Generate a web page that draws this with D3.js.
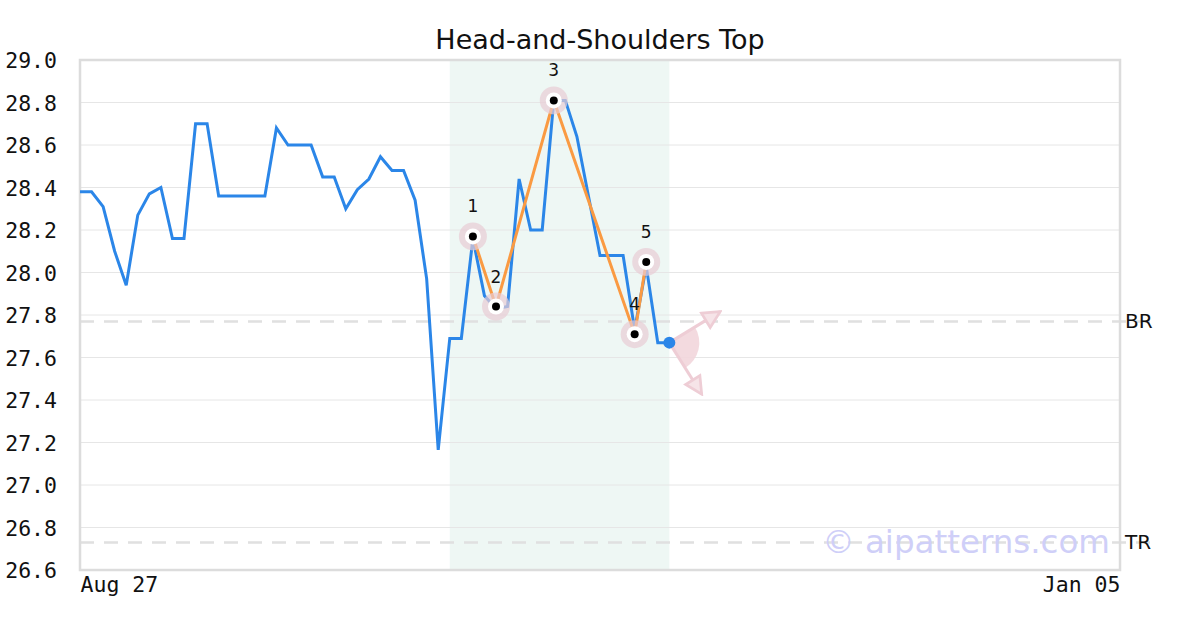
<!DOCTYPE html>
<html><head><meta charset="utf-8">
<script src="https://cdn.jsdelivr.net/npm/d3@7"></script>
<style>body{margin:0;background:#fff}svg{display:block}</style>
</head><body>
<svg id="c" width="1200" height="630"></svg>
<script>
const title = "Head-and-Shoulders Top";
const prices = [28.38,28.38,28.31,28.10,27.94,28.27,28.37,28.40,28.16,28.16,
  28.70,28.70,28.36,28.36,28.36,28.36,28.36,28.68,28.60,28.60,
  28.60,28.45,28.45,28.30,28.39,28.44,28.545,28.48,28.48,28.34,
  27.97,27.165,27.69,27.69,28.16,27.89,27.83,27.84,28.44,28.20,
  28.20,28.81,28.81,28.64,28.36,28.08,28.08,28.08,27.73,28.03,
  27.67,27.67];
const pivotIdx = [34,36,41,48,49];
const pivotVal = [28.17,27.84,28.81,27.71,28.05];
const pivotLabels = ["1","2","3","4","5"];
const zoneRange = [32,51];
const levelNames = ["BR","TR"];
const levelVals = [27.77,26.73];
const arrowEnds = [[55.4,27.816],[53.8,27.427]];
const yTicks = [26.6,26.8,27.0,27.2,27.4,27.6,27.8,28.0,28.2,28.4,28.6,28.8,29.0];
const xTickIdx = [0,90];
const xTickLabels = ["Aug 27","Jan 05"];
const watermark = "© aipatterns.com";

const svg = d3.select("#c");
const L=80,R=1120,T=60,B=570;
const x = d3.scaleLinear().domain([0,90]).range([L,R]);
const y = d3.scaleLinear().domain([26.6,29.0]).range([B,T]);
const mono = "'DejaVu Sans Mono', monospace";
const sans = "'DejaVu Sans', sans-serif";

// zone
svg.append("rect").attr("x",x(zoneRange[0])).attr("y",T)
  .attr("width",x(zoneRange[1])-x(zoneRange[0])).attr("height",B-T)
  .attr("fill","#eef7f4");

// grid
svg.append("g").selectAll("line").data(yTicks).join("line")
  .attr("x1",L).attr("x2",R).attr("y1",d=>y(d)).attr("y2",d=>y(d))
  .attr("stroke","#e6e6e6").attr("stroke-width",1);

// level lines
svg.append("g").selectAll("line").data(levelVals).join("line")
  .attr("x1",L).attr("x2",R+30).attr("y1",d=>y(d)).attr("y2",d=>y(d))
  .attr("stroke","#e0e0e0").attr("stroke-width",2.5).attr("stroke-dasharray","14,10");
svg.append("g").selectAll("text").data(levelVals).join("text")
  .attr("x",R+5).attr("y",d=>y(d)+7).text((d,i)=>levelNames[i])
  .attr("font-family",sans).attr("font-size",20).attr("fill","#111");

// border
svg.append("rect").attr("x",L).attr("y",T).attr("width",R-L).attr("height",B-T)
  .attr("fill","none").attr("stroke","#dcdcdc").attr("stroke-width",2.5);

// y axis
const ya = svg.append("g").attr("transform",`translate(${L},0)`)
  .call(d3.axisLeft(y).tickValues(yTicks).tickFormat(d3.format(".1f")).tickSize(0).tickPadding(23));
ya.select(".domain").remove();
ya.selectAll("text").attr("font-family",mono).attr("font-size",21.5).attr("fill","#111").attr("dy","0.35em");

// x axis
const xa = svg.append("g").attr("transform",`translate(0,${B})`)
  .call(d3.axisBottom(x).tickValues(xTickIdx).tickFormat((d,i)=>xTickLabels[i]).tickSize(0).tickPadding(7));
xa.select(".domain").remove();
xa.selectAll("text").attr("font-family",mono).attr("font-size",21.5).attr("fill","#111")
  .attr("text-anchor",(d,i)=>i===0?"start":"end");

// watermark
svg.append("text").attr("x",1110).attr("y",553).attr("text-anchor","end")
  .attr("font-family",sans).attr("font-size",32.5).attr("fill","#cfcff8").text(watermark);

// arrows + sector
const ox = x(prices.length-1), oy = y(prices[prices.length-1]);
const defs = svg.append("defs");
defs.append("marker").attr("id","ah").attr("viewBox","0 0 10 10").attr("refX",9).attr("refY",5)
  .attr("markerWidth",7).attr("markerHeight",7).attr("orient","auto-start-reverse")
  .append("path").attr("d","M1,1 L9,5 L1,9 Z").attr("fill","#f6e4e8").attr("stroke","#eecdd5").attr("stroke-width",1.3);
const angs = arrowEnds.map(e=>Math.atan2(y(e[1])-oy, x(e[0])-ox));
const arcR = 30;
const a0=angs[0], a1=angs[1];
svg.append("path")
  .attr("d",`M${ox},${oy} L${ox+arcR*Math.cos(a0)},${oy+arcR*Math.sin(a0)} A${arcR},${arcR} 0 0 1 ${ox+arcR*Math.cos(a1)},${oy+arcR*Math.sin(a1)} Z`)
  .attr("fill","#f2d6dc").attr("opacity",0.9);
svg.append("g").selectAll("line").data(arrowEnds).join("line")
  .attr("x1",ox).attr("y1",oy).attr("x2",d=>x(d[0])).attr("y2",d=>y(d[1]))
  .attr("stroke","#eecdd5").attr("stroke-width",3).attr("marker-end","url(#ah)");

// price line
svg.append("path").datum(prices)
  .attr("d",d3.line().x((d,i)=>x(i)).y(d=>y(d)))
  .attr("fill","none").attr("stroke","#2b86e8").attr("stroke-width",3).attr("stroke-linejoin","miter");

// pattern line
const piv = pivotIdx.map((d,i)=>({i:d,v:pivotVal[i],l:pivotLabels[i]}));
svg.append("path").datum(piv)
  .attr("d",d3.line().x(d=>x(d.i)).y(d=>y(d.v)))
  .attr("fill","none").attr("stroke","#fa9a42").attr("stroke-width",3);

const pg = svg.append("g").selectAll("g").data(piv).join("g")
  .attr("transform",d=>`translate(${x(d.i)},${y(d.v)})`);
pg.append("circle").attr("r",14).attr("fill","#e8ccd4").attr("opacity",0.7);
pg.append("circle").attr("r",8).attr("fill","#fff");
pg.append("circle").attr("r",4).attr("fill","#000");
pg.append("text").attr("y",-24).attr("text-anchor","middle").text(d=>d.l)
  .attr("font-family",sans).attr("font-size",17).attr("fill","#111");

// last point
svg.append("circle").attr("cx",ox).attr("cy",oy).attr("r",6).attr("fill","#2b86e8");

// title
svg.append("text").attr("x",600).attr("y",49).attr("text-anchor","middle")
  .attr("font-family",sans).attr("font-size",27).attr("fill","#111").text(title);
</script>
</body></html>
